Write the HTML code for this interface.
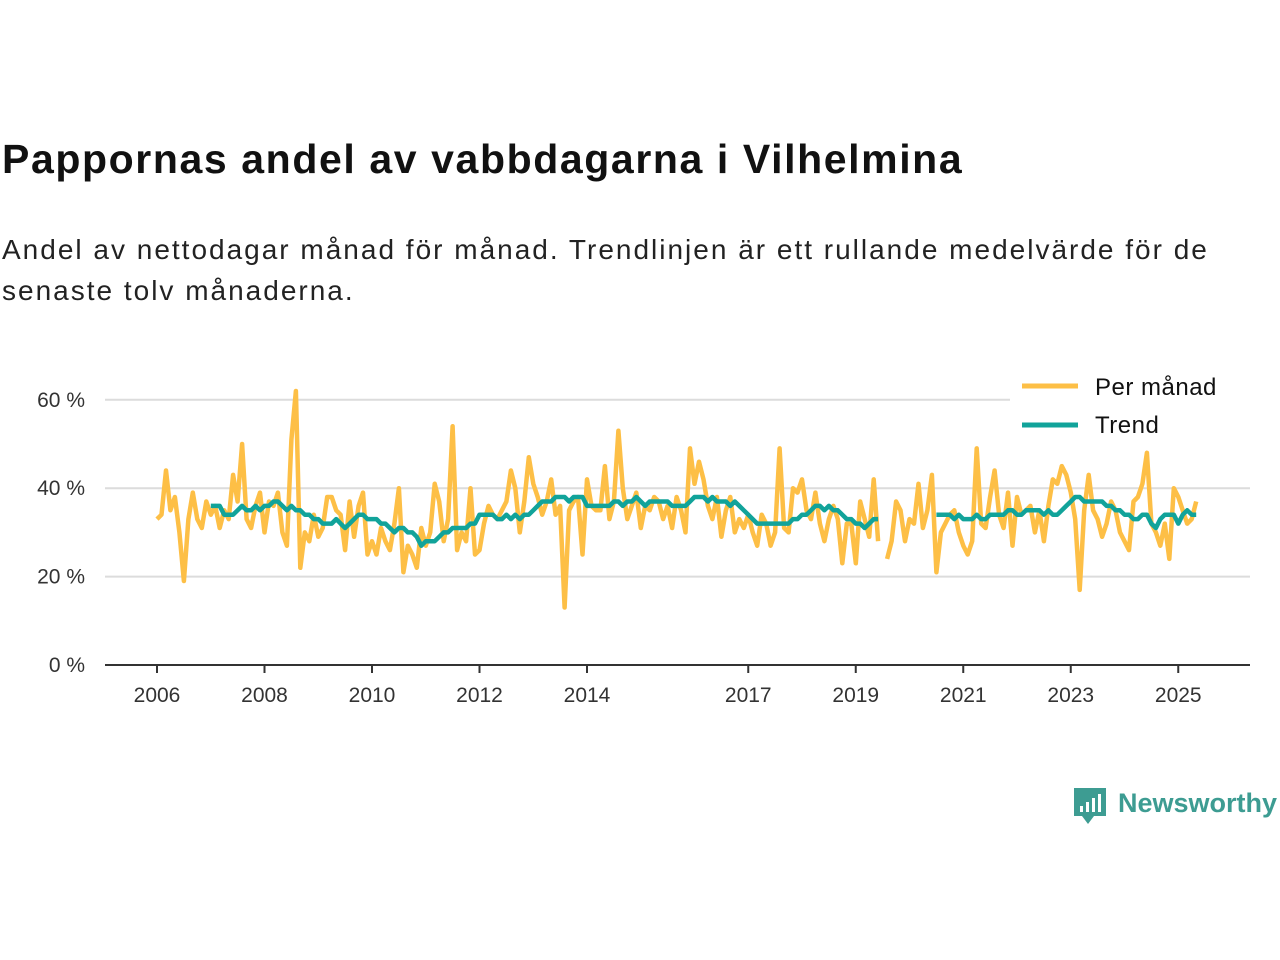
<!DOCTYPE html>
<html><head><meta charset="utf-8"><style>
body{margin:0;background:#fff;width:1280px;height:960px;overflow:hidden;font-family:"Liberation Sans","DejaVu Sans",sans-serif;}
#title{position:absolute;left:2px;top:136px;font-size:41px;font-weight:bold;color:#111;margin:0;letter-spacing:1.6px;white-space:nowrap;}
#sub{position:absolute;left:2px;top:229px;font-size:28px;line-height:41px;color:#222;width:1230px;letter-spacing:2px;}
svg{position:absolute;left:0;top:0;}
</style></head><body>
<h1 id="title">Pappornas andel av vabbdagarna i Vilhelmina</h1>
<div id="sub">Andel av nettodagar månad för månad. Trendlinjen är ett rullande medelvärde för de senaste tolv månaderna.</div>
<svg id="chart" width="1280" height="960"></svg>
<script>
const startYear=2006;
const monthly=[33,34,44,35,38,30,19,33,39,33,31,37,
34,36,31,35,33,43,37,50,33,31,36,39,
30,37,36,39,30,27,51,62,22,30,28,34,
29,31,38,38,35,34,26,37,29,36,39,25,
28,25,31,28,26,32,40,21,27,25,22,31,
27,30,41,37,28,33,54,26,30,28,40,25,
26,32,36,34,33,35,37,44,40,30,37,47,
41,38,34,37,42,34,36,13,35,37,38,25,
42,36,35,35,45,33,37,53,40,33,36,39,
31,36,35,38,37,33,36,31,38,35,30,49,
41,46,42,36,33,38,29,35,38,30,33,31,
34,30,27,34,32,27,30,49,31,30,40,39,
42,35,33,39,32,28,33,36,33,23,32,32,
23,37,33,29,42,28,null,24,28,37,35,28,
33,32,41,31,35,43,21,30,32,34,35,30,
27,25,28,49,32,31,38,44,34,31,39,27,
38,34,35,36,30,35,28,36,42,41,45,43,
39,33,17,35,43,35,33,29,32,37,35,30,
28,26,37,38,41,48,32,30,27,32,24,40,
38,35,32,33,37];
const trend=[null,null,null,null,null,null,null,null,null,null,null,null,
36,36,36,34,34,34,35,36,35,35,36,35,
36,36,37,37,36,35,36,35,35,34,34,33,
33,32,32,32,33,32,31,32,33,34,34,33,
33,33,32,32,31,30,31,31,30,30,29,27,
28,28,28,29,30,30,31,31,31,31,32,32,
34,34,34,34,33,33,34,33,34,33,34,34,
35,36,37,37,37,38,38,38,37,38,38,38,
36,36,36,36,36,36,37,37,36,37,37,38,
37,36,37,37,37,37,37,36,36,36,36,37,
38,38,38,37,38,37,37,37,36,37,36,35,
34,33,32,32,32,32,32,32,32,32,33,33,
34,34,35,36,36,35,36,35,35,34,33,33,
32,32,31,32,33,33,null,null,null,null,null,null,
null,null,null,null,null,null,34,34,34,34,33,34,
33,33,33,34,33,33,34,34,34,34,35,35,
34,34,35,35,35,35,34,35,34,34,35,36,
37,38,38,37,37,37,37,37,36,36,35,35,
34,34,33,33,34,34,32,31,33,34,34,34,
32,34,35,34,34];
const yTicks=[0,20,40,60];
const xTicks=[2006,2008,2010,2012,2014,2017,2019,2021,2023,2025];
const svg=document.getElementById('chart');
const NS='http://www.w3.org/2000/svg';
const x=t=>157+(t-2006)*53.75;
const y=v=>665-v*4.42;
function mk(tag,attrs,parent){const e=document.createElementNS(NS,tag);for(const k in attrs)e.setAttribute(k,attrs[k]);(parent||svg).appendChild(e);return e;}
yTicks.forEach(v=>{
 if(v>0){const g=mk('line',{x1:105,x2:1250,y1:y(v),y2:y(v),stroke:'#dcdcdc','stroke-width':2});
 
 }
 const t=mk('text',{x:85,y:y(v)+7,'text-anchor':'end','font-size':21,fill:'#333'});t.textContent=v+' %';
 
 
});
const ax=mk('line',{x1:105,x2:1250,y1:665,y2:665,stroke:'#333','stroke-width':2});


xTicks.forEach(yr=>{
 mk('line',{x1:x(yr),x2:x(yr),y1:665,y2:673,stroke:'#333','stroke-width':2});
 const t=mk('text',{x:x(yr),y:702,'text-anchor':'middle','font-size':21,fill:'#333'});t.textContent=yr;
 
 
});
function path(arr,color,name){
 let d='',pen=false;
 arr.forEach((v,i)=>{if(v==null){pen=false;return;}const px=x(startYear+i/12),py=y(v);d+=(pen?'L':'M')+px.toFixed(1)+','+py.toFixed(1);pen=true;});
 const p=mk('path',{d:d,fill:'none',stroke:color,'stroke-width':4.5,'stroke-linejoin':'round'});
 
 
}
path(monthly,'#fdbf46','monthly-line');
path(trend,'#11a39a','trend-line');
const lg=mk('g',{});


mk('rect',{x:1010,y:368,width:240,height:82,fill:'#fff'},lg);
mk('line',{x1:1022,x2:1078,y1:386,y2:386,stroke:'#fdbf46','stroke-width':5},lg);
mk('line',{x1:1022,x2:1078,y1:425,y2:425,stroke:'#11a39a','stroke-width':5},lg);
const l1=mk('text',{x:1095,y:395,'font-size':24,fill:'#111','letter-spacing':0.5},lg);l1.textContent='Per månad';


const l2=mk('text',{x:1095,y:433,'font-size':24,fill:'#111','letter-spacing':0.5},lg);l2.textContent='Trend';


const lo=mk('g',{});


mk('path',{d:'M1074,788 h32 v28 h-12 l-6,8 l-6,-8 h-8 z',fill:'#3d9c92'},lo);
[[1080,806,6],[1086,802,10],[1092,798,14],[1098,794,18]].forEach(b=>mk('rect',{x:b[0],y:b[1],width:3,height:b[2],fill:'#fff'},lo));
const lt=mk('text',{x:1118,y:812,'font-size':27,'font-weight':'bold',fill:'#3d9c92'},lo);lt.textContent='Newsworthy';
</script>
</body></html>
